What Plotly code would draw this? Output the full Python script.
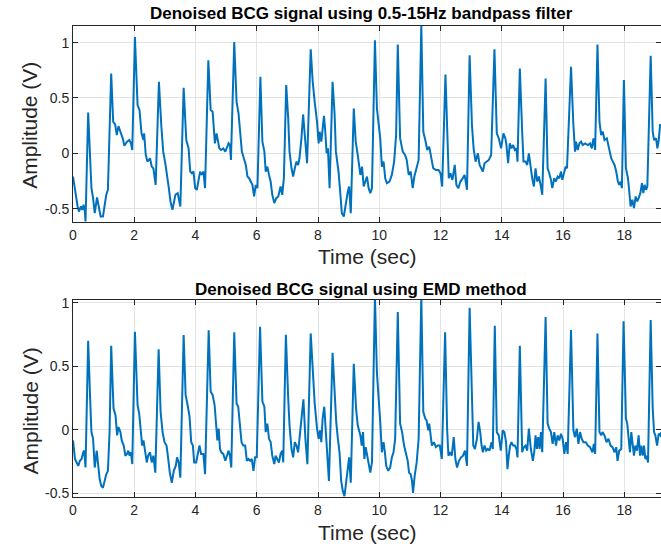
import plotly.graph_objects as go

# ---- Data: top panel (0.5-15 Hz bandpass) ----
t_bp = [0.0, 0.086, 0.151, 0.194, 0.258, 0.301, 0.344, 0.387, 0.409, 0.495, 0.548, 0.602, 0.656, 0.710, 0.785,
        0.839, 0.903, 0.978, 1.032, 1.086, 1.140, 1.247, 1.312, 1.376, 1.430, 1.484, 1.548, 1.624, 1.677, 1.763,
        1.839, 1.892, 1.935, 2.022, 2.108, 2.172, 2.237, 2.301, 2.323, 2.376, 2.430, 2.516, 2.570, 2.624, 2.699,
        2.806, 2.882, 2.946, 3.022, 3.075, 3.129, 3.183, 3.247, 3.344, 3.419, 3.505, 3.613, 3.699, 3.774, 3.828,
        3.882, 3.935, 3.989, 4.043, 4.097, 4.151, 4.204, 4.258, 4.312, 4.419, 4.495, 4.559, 4.634, 4.688,
        4.778, 4.832, 4.908, 4.973, 5.016, 5.081, 5.124, 5.157, 5.265, 5.341, 5.405, 5.449, 5.514, 5.578, 5.643,
        5.697, 5.751, 5.805, 5.859, 5.914, 5.968, 6.022, 6.119, 6.184, 6.249, 6.292, 6.346, 6.400, 6.454, 6.508,
        6.573, 6.638, 6.703, 6.778, 6.832, 6.886, 6.962, 7.027, 7.070, 7.135, 7.189, 7.243, 7.297, 7.351, 7.395,
        7.459, 7.514, 7.568, 7.643, 7.762, 7.827, 7.892, 7.968, 8.022, 8.054, 8.108, 8.151, 8.195, 8.238, 8.281,
        8.324, 8.378, 8.476, 8.541, 8.584, 8.670, 8.724, 8.778, 8.843, 8.908, 8.973, 9.016, 9.070, 9.168, 9.232,
        9.297, 9.341,
        9.384, 9.438, 9.492, 9.546, 9.600, 9.654, 9.708, 9.762, 9.859, 9.924, 9.978, 10.032, 10.086, 10.141,
        10.195, 10.249, 10.335, 10.411, 10.486, 10.551, 10.605, 10.681, 10.768, 10.843, 10.897, 10.962, 11.027,
        11.092, 11.146, 11.222, 11.286, 11.373, 11.438, 11.503, 11.568, 11.632, 11.697, 11.762, 11.849, 11.935,
        12.000, 12.054, 12.162, 12.227, 12.270, 12.324, 12.389, 12.465, 12.519, 12.584, 12.649, 12.714, 12.789,
        12.865, 12.951, 13.027, 13.081, 13.146, 13.222, 13.276, 13.330, 13.384, 13.438, 13.492, 13.578, 13.654,
        13.762, 13.838, 13.903, 13.978, 14.054, 14.119,
        14.153, 14.208, 14.262, 14.317, 14.372, 14.426, 14.481, 14.514, 14.590, 14.667, 14.710, 14.776, 14.831,
        14.885, 14.940, 14.995, 15.049, 15.104, 15.158, 15.213, 15.268, 15.322, 15.432, 15.497, 15.552, 15.607,
        15.650, 15.716, 15.770, 15.825, 15.880, 15.934, 15.978, 16.044, 16.087, 16.131, 16.262, 16.339, 16.393,
        16.426, 16.481, 16.536, 16.590, 16.645, 16.721, 16.809, 16.885, 16.940, 16.995, 17.049, 17.126, 17.191,
        17.246, 17.301, 17.355, 17.432, 17.508, 17.574, 17.628, 17.683, 17.738, 17.792, 17.836, 17.880, 17.923,
        17.989, 18.055, 18.120, 18.164, 18.208, 18.262, 18.317, 18.372, 18.426, 18.470, 18.525, 18.579, 18.623,
        18.667, 18.710, 18.754, 18.863, 18.929, 18.973, 19.038, 19.082, 19.126, 19.169, 19.213]
v_bp = [-0.21, -0.375, -0.48, -0.526, -0.48, -0.511, -0.465, -0.526, -0.616, 0.369, -0.045, -0.315, -0.405, -0.541,
        -0.399, -0.495, -0.571, -0.571, -0.48, -0.375, -0.33, 0.721, 0.285, 0.261, 0.165, 0.246, 0.195, 0.135, 0.069,
        0.105, 0.12, 0.09, 0.03, 1.051, 0.435, 0.39, 0.18, 0.12, 0.18, -0.015, -0.075, -0.045, -0.12, -0.135, -0.285,
        0.646, 0.255, 0.015, -0.105, -0.195, -0.315, -0.435, -0.511, -0.375, -0.36, -0.48, 0.592, 0.12, 0.045, -0.165,
        -0.18, -0.165, -0.315, -0.33, -0.255, -0.165, -0.195, -0.165, -0.315, 0.841, 0.39, 0.375, 0.09, 0.18,
        0.045, 0.03, 0.045, 0.015, 0.045, 0.09, 0.075, -0.06, 1.006, 0.465, 0.36, 0.195, 0.015, -0.045, -0.105,
        -0.21, -0.225, -0.255, -0.285, -0.39, -0.285, -0.315, 0.691, 0.105, 0.015, -0.165, -0.12, -0.195, -0.255,
        -0.375, -0.45, -0.405, -0.39, -0.30, -0.375, -0.225, 0.616, 0.315, 0.015, -0.135, -0.21, -0.135, -0.075,
        -0.105, -0.045, 0.135, 0.351, 0.165, -0.09, 0.94, 0.646, 0.465, 0.285, 0.09, 0.195, 0.105, 0.255, 0.339,
        0.195, 0.0, 0.045, -0.315, 0.646, 0.36, 0.015, -0.165, -0.345, -0.541, -0.571, -0.45, -0.345, -0.30, -0.541,
        0.405, 0.105, -0.015, -0.105,
        -0.195, -0.12, -0.30, -0.255, -0.21, -0.315, -0.36, -0.315, 1.021, 0.405, 0.285, 0.135, -0.12, -0.075,
        -0.225, -0.27, -0.255, -0.195, -0.075, 0.165, 0.982, 0.135, 0.015, -0.015, -0.06, -0.195, -0.165, -0.315,
        -0.21, -0.135, -0.06, 1.16, 0.195, 0.12, 0.03, 0.06, -0.045, -0.135, -0.15, -0.15, -0.18, -0.30, 0.712,
        0.015, -0.225, -0.18, -0.24, -0.105, -0.285, -0.315, -0.255, -0.231, -0.195, -0.33, 0.886, 0.255, 0.045,
        -0.075, 0.0, -0.105, -0.135, -0.165, -0.09, -0.075, -0.06, -0.015, 0.94, 0.18, 0.135, 0.045, 0.18, 0.135,
        0.075, -0.09, 0.09, 0.045, 0.075, 0.03, 0.045, -0.075, 0.766, 0.195, -0.075, -0.075, -0.105, 0.0, -0.135,
        -0.225, -0.30, -0.135, -0.255, -0.21, -0.285, -0.375, 0.676, -0.135, -0.18, -0.24, -0.315, -0.225, -0.255,
        -0.21, -0.225, -0.165, -0.24, -0.15, -0.12, -0.135, 0.781, 0.255, 0.015, 0.105, 0.03, 0.09, 0.105, 0.075,
        0.09, 0.075, 0.09, 0.045, 0.135, 0.03, 0.982, 0.285, 0.165, 0.195, 0.12, 0.135, 0.045, -0.045, -0.075,
        -0.105, -0.165, -0.255, -0.285, -0.255, -0.315, 0.661, -0.135, -0.225, -0.345, -0.48, -0.42, -0.495,
        -0.39, -0.435, -0.405, -0.36, -0.27, -0.36, -0.285, -0.33, -0.30, 0.880, 0.195, 0.12, 0.135, 0.045, 0.12,
        0.255, 0.255]

# ---- Data: bottom panel (EMD method) ----
t_emd = [0.0, 0.065, 0.118, 0.172, 0.226, 0.280, 0.333, 0.366, 0.409, 0.495, 0.559, 0.602, 0.656, 0.710, 0.774,
         0.817, 0.871, 0.925, 0.978, 1.032, 1.086, 1.140, 1.194, 1.247, 1.323, 1.387, 1.441, 1.484, 1.548, 1.591,
         1.656, 1.710, 1.763, 1.806, 1.849, 1.892, 1.935, 2.022, 2.108, 2.161, 2.215, 2.258, 2.301, 2.355, 2.409,
         2.452, 2.516, 2.570, 2.624, 2.688, 2.796, 2.860, 2.925, 2.989, 3.054, 3.097, 3.161, 3.226, 3.290, 3.355,
         3.398, 3.452, 3.505, 3.613, 3.677, 3.742, 3.806, 3.860, 3.914, 3.957, 4.022, 4.075, 4.129, 4.183, 4.258,
         4.312, 4.430, 4.495, 4.559, 4.624,
         4.670, 4.714, 4.757, 4.800, 4.843, 4.908, 4.973, 5.027, 5.081, 5.124, 5.168, 5.265, 5.341, 5.395, 5.449,
         5.503, 5.557, 5.622, 5.676, 5.730, 5.784, 5.838, 5.892, 5.946, 6.0, 6.108, 6.184, 6.249, 6.292, 6.346,
         6.400, 6.454, 6.508, 6.573, 6.616, 6.670, 6.724, 6.778, 6.832, 6.865, 6.951, 7.027, 7.070, 7.135, 7.189,
         7.243, 7.297, 7.351, 7.395, 7.459, 7.524, 7.589, 7.654, 7.762, 7.827, 7.892, 7.968, 8.022, 8.065, 8.108,
         8.151, 8.205, 8.249, 8.303, 8.357, 8.476, 8.541, 8.595, 8.649, 8.703, 8.757, 8.811, 8.865, 8.908, 8.962,
         9.016, 9.070, 9.168, 9.243, 9.297,
         9.384, 9.427, 9.470, 9.514, 9.557, 9.600, 9.654, 9.708, 9.762, 9.859, 9.924, 9.978, 10.032, 10.086,
         10.141, 10.184, 10.227, 10.292, 10.357, 10.411, 10.465, 10.519, 10.605, 10.681, 10.746, 10.811, 10.876,
         10.930, 10.973, 11.027, 11.070, 11.103, 11.157, 11.222, 11.286, 11.373, 11.438, 11.503, 11.546, 11.600,
         11.632, 11.676, 11.719, 11.784, 11.849, 11.914, 11.978, 12.043, 12.151, 12.216, 12.259, 12.314, 12.368,
         12.432, 12.486, 12.541, 12.605, 12.670, 12.735, 12.800, 12.865, 12.951, 13.027, 13.070, 13.124, 13.189,
         13.243, 13.297, 13.341, 13.384, 13.438, 13.492, 13.546, 13.600, 13.665, 13.708, 13.773, 13.838, 13.903,
         13.968, 14.032, 14.086, 14.141,
         14.186, 14.230, 14.273, 14.317, 14.372, 14.426, 14.481, 14.514, 14.590, 14.667, 14.721, 14.776, 14.831,
         14.885, 14.951, 15.016, 15.060, 15.104, 15.148, 15.191, 15.235, 15.279, 15.322, 15.432, 15.497, 15.552,
         15.607, 15.661, 15.716, 15.770, 15.825, 15.880, 15.934, 15.989, 16.044, 16.098, 16.153, 16.262, 16.339,
         16.393, 16.448, 16.503, 16.557, 16.612, 16.667, 16.743, 16.809, 16.885, 16.962, 17.005, 17.049, 17.126,
         17.191, 17.246, 17.290, 17.355, 17.421, 17.486, 17.552, 17.617, 17.683, 17.738, 17.781, 17.836, 17.902,
         17.978, 18.055, 18.098, 18.142, 18.186, 18.230, 18.273, 18.317, 18.361, 18.415, 18.470, 18.514, 18.557,
         18.601, 18.645, 18.689, 18.732, 18.776, 18.863, 18.929, 18.973, 19.016, 19.071, 19.126, 19.180, 19.213]
v_emd = [-0.085, -0.231, -0.258, -0.285, -0.245, -0.231, -0.178, -0.165, -0.298, 0.699, 0.247, -0.019, -0.072,
         -0.298, -0.165, -0.285, -0.391, -0.444, -0.457, -0.404, -0.351, -0.324, -0.019, 0.660, 0.168, 0.114, -0.045,
         0.021, -0.019, -0.085, -0.125, -0.205, -0.191, -0.165, -0.205, -0.178, -0.271, 0.771, 0.194, 0.128, -0.019,
         -0.125, -0.085, -0.191, -0.258, -0.205, -0.178, -0.258, -0.205, -0.338, 0.633, 0.141, -0.019, -0.098,
         -0.125, -0.205, -0.338, -0.418, -0.324, -0.285, -0.218, -0.258, -0.378, 0.745, 0.274, 0.194, 0.101, -0.098,
         -0.125, -0.258, -0.258, -0.191, -0.125, -0.191, -0.191, -0.351, 0.782, 0.301, 0.274, 0.194,
         0.008, -0.085, 0.008, -0.152, -0.178, -0.191, -0.245, -0.205, -0.165, -0.205, -0.298, 0.766, 0.207, 0.181,
         0.021, -0.098, -0.125, -0.125, -0.245, -0.231, -0.245, -0.231, -0.324, -0.218, -0.218, 0.811, 0.221,
         0.181, -0.019, 0.048, -0.072, -0.098, -0.205, -0.271, -0.205, -0.231, -0.258, -0.191, -0.165, -0.258,
         0.747, 0.247, 0.035, -0.152, -0.218, -0.098, -0.125, -0.178, -0.072, 0.035, 0.239, -0.072, -0.271, 0.758,
         0.434, 0.207, 0.008, -0.072, -0.005, -0.098, 0.088, 0.181, 0.008, -0.205, -0.404, 0.606, 0.301, 0.061,
         -0.072, -0.178, -0.404, -0.484, -0.524, -0.431, -0.285, -0.218, -0.418, 0.519, 0.168, 0.035,
         -0.045, -0.125, -0.019, -0.231, -0.138, -0.205, -0.285, -0.338, -0.258, 1.05, 0.447, 0.274, 0.061,
         -0.178, -0.098, -0.178, -0.285, -0.324, -0.298, -0.218, -0.178, -0.072, 0.926, 0.048, -0.019, -0.125,
         -0.205, -0.245, -0.338, -0.351, -0.404, -0.497, -0.364, -0.258, -0.072, 1.05, 0.141, 0.088, 0.074,
         -0.005, 0.048, -0.072, -0.125, -0.098, -0.138, -0.125, -0.125, -0.231, 0.766, 0.008, -0.205, -0.178,
         -0.205, -0.059, -0.231, -0.298, -0.245, -0.218, -0.205, -0.165, -0.285, 0.960, 0.274, -0.125, -0.152,
         -0.072, 0.061, -0.019, -0.125, -0.178, -0.125, -0.165, -0.152, -0.165, -0.098, -0.152, 0.819, -0.019,
         -0.045, -0.165, -0.005, -0.019, -0.098,
         -0.311, -0.205, -0.125, -0.098, -0.125, -0.125, -0.152, -0.218, 0.660, -0.178, -0.138, -0.125, -0.165,
         0.008, -0.152, -0.245, -0.178, -0.045, -0.152, -0.059, -0.152, -0.019, -0.178, 0.886, 0.048, 0.008,
         -0.019, -0.112, -0.019, -0.125, -0.045, -0.085, -0.032, -0.072, -0.191, -0.098, -0.191, 0.785, -0.005,
         -0.059, 0.008, -0.112, -0.019, -0.072, -0.098, -0.098, -0.125, -0.138, -0.178, -0.112, -0.191, 0.758,
         -0.019, -0.045, -0.019, -0.045, -0.098, -0.072, -0.125, -0.138, -0.178, -0.138, -0.245, -0.165, -0.152,
         0.854, 0.088, 0.048, -0.045, -0.178, -0.019, -0.098, -0.205, -0.125, -0.165, -0.045, -0.205, -0.125,
         -0.205, -0.125, -0.231, -0.205, -0.258, 0.864, 0.168, -0.019, -0.045, -0.125, -0.032, -0.045, -0.019]

x_ticks = [0, 2, 4, 6, 8, 10, 12, 14, 16, 18]
y_ticks = [-0.5, 0, 0.5, 1]
y_ticklabels = ["-0.5", "0", "0.5", "1"]
titles = ["Denoised BCG signal using 0.5-15Hz bandpass filter", "Denoised BCG signal using EMD method"]
x_label = "Time (sec)"
y_label = "Amplitude (V)"

LINE = "#0072BD"
AX = "#262626"
GRID = "#e3e3e3"
FONT = "Liberation Sans, Arial, sans-serif"

fig = go.Figure()
fig.add_trace(go.Scatter(x=t_bp, y=v_bp, mode="lines", line=dict(color=LINE, width=2),
                         xaxis="x", yaxis="y", showlegend=False))
fig.add_trace(go.Scatter(x=t_emd, y=v_emd, mode="lines", line=dict(color=LINE, width=2),
                         xaxis="x2", yaxis="y2", showlegend=False))

common_x = dict(range=[0, 19.2], tickvals=x_ticks, showgrid=True, gridcolor=GRID, gridwidth=1,
                zeroline=False, showline=True, linecolor=AX, linewidth=1, mirror="ticks",
                ticks="inside", ticklen=5, tickcolor=AX, tickfont=dict(size=14, color=AX, family=FONT))
common_y = dict(tickvals=y_ticks, ticktext=y_ticklabels, showgrid=True, gridcolor=GRID, gridwidth=1,
                zeroline=False, showline=True, linecolor=AX, linewidth=1, mirror="ticks",
                ticks="inside", ticklen=5, tickcolor=AX, tickfont=dict(size=14, color=AX, family=FONT))

fig.update_layout(
    width=661, height=546,
    margin=dict(l=73, r=0, t=26, b=49),
    plot_bgcolor="white", paper_bgcolor="white",
    xaxis=dict(domain=[0, 1], anchor="y", **common_x),
    yaxis=dict(domain=[0.584, 1], anchor="x", range=[-0.62, 1.15], **common_y),
    xaxis2=dict(domain=[0, 1], anchor="y2", **common_x),
    yaxis2=dict(domain=[0, 0.418], anchor="x2", range=[-0.53, 1.02], **common_y),
)

ann = []
ann.append(dict(text="<b>%s</b>" % titles[0], x=0.49, y=1.0255, xref="paper", yref="paper",
                xanchor="center", yanchor="middle", showarrow=False, font=dict(size=17, color="black", family=FONT)))
ann.append(dict(text="<b>%s</b>" % titles[1], x=0.49, y=0.4416, xref="paper", yref="paper",
                xanchor="center", yanchor="middle", showarrow=False, font=dict(size=17, color="black", family=FONT)))
for yc in [0.5096, -0.0764]:
    ann.append(dict(text=x_label, x=0.5, y=yc, xref="paper", yref="paper", xanchor="center", yanchor="middle",
                    showarrow=False, font=dict(size=21, color=AX, family=FONT)))
for yc in [0.788, 0.1815]:
    ann.append(dict(text=y_label, x=-0.0731, y=yc, xref="paper", yref="paper", xanchor="center", yanchor="middle",
                    textangle=-90, showarrow=False, font=dict(size=21, color=AX, family=FONT)))
fig.update_layout(annotations=ann)

fig.write_html("out.html")
